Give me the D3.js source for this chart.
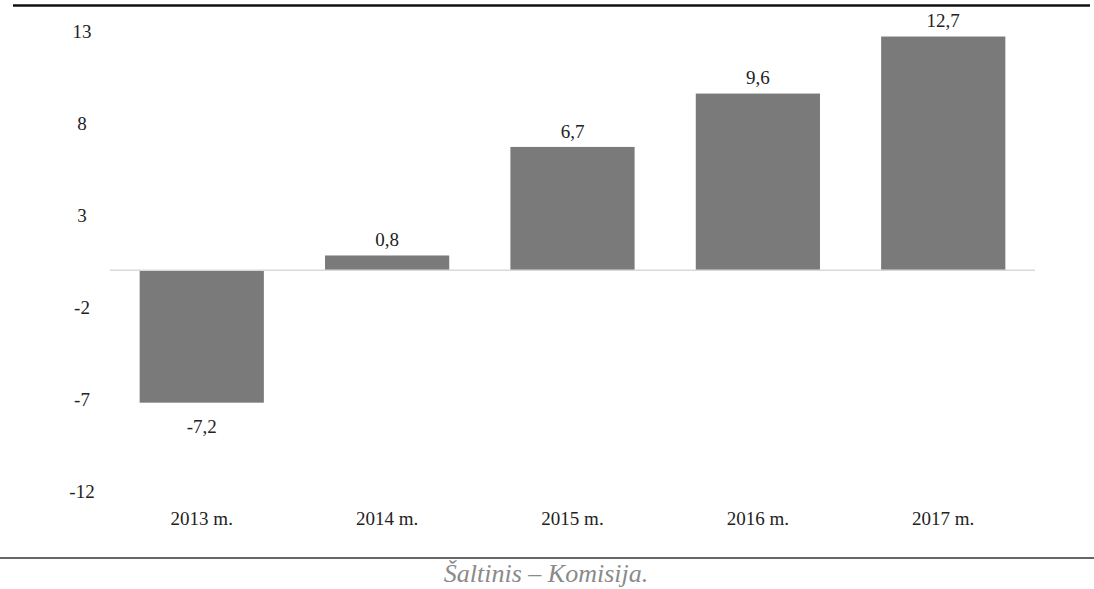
<!DOCTYPE html>
<html>
<head>
<meta charset="utf-8">
<script src="https://cdn.jsdelivr.net/npm/d3@7"></script>
<style>
  body { margin: 0; background: #fff; }
  svg { display: block; font-family: "Liberation Serif", "DejaVu Serif", serif; }
</style>
</head>
<body>
<svg width="1094" height="589"></svg>
<script>
// data
const years = ["2013 m.", "2014 m.", "2015 m.", "2016 m.", "2017 m."]
const values = [-7.2, 0.8, 6.7, 9.6, 12.7]
const yTicks = [13, 8, 3, -2, -7, -12]

const svg = d3.select("svg")

// scales
const x = d3.scaleBand().domain(years).range([110, 1035]).paddingInner(0.33).paddingOuter(0.16)
const y = d3.scaleLinear().domain([-12, 13]).range([491, 31])

// top and bottom rules
svg.append("line")
  .attr("x1", 13).attr("x2", 1090).attr("y1", 5.5).attr("y2", 5.5)
  .attr("stroke", "#111").attr("stroke-width", 2.5)
svg.append("line")
  .attr("x1", 0).attr("x2", 1094).attr("y1", 558).attr("y2", 558)
  .attr("stroke", "#333").attr("stroke-width", 1.5)

// y labels
svg.selectAll(".ytick")
  .data(yTicks)
  .enter().append("text")
  .attr("x", 82)
  .attr("y", d => y(d))
  .attr("dy", "0.35em")
  .attr("text-anchor", "middle")
  .attr("font-size", 19)
  .attr("fill", "#222")
  .text(d => d)

// bars
svg.selectAll(".bar")
  .data(values)
  .enter().append("rect")
  .attr("x", (d, i) => x(years[i]))
  .attr("width", x.bandwidth())
  .attr("y", d => y(Math.max(0, d)))
  .attr("height", d => Math.abs(y(d) - y(0)))
  .attr("fill", "#7a7a7a")

// zero line
svg.append("line")
  .attr("x1", 110).attr("x2", 1035)
  .attr("y1", y(0)).attr("y2", y(0))
  .attr("stroke", "#d9d9d9").attr("stroke-width", 1.5)

// value labels
svg.selectAll(".val")
  .data(values)
  .enter().append("text")
  .attr("x", (d, i) => x(years[i]) + x.bandwidth() / 2)
  .attr("y", d => d >= 0 ? y(d) - 16 : y(d) + 24)
  .attr("dy", "0.35em")
  .attr("text-anchor", "middle")
  .attr("font-size", 19)
  .attr("fill", "#222")
  .text(d => String(d).replace(".", ","))

// category labels
svg.selectAll(".cat")
  .data(years)
  .enter().append("text")
  .attr("x", d => x(d) + x.bandwidth() / 2)
  .attr("y", 518)
  .attr("dy", "0.35em")
  .attr("text-anchor", "middle")
  .attr("font-size", 19)
  .attr("fill", "#222")
  .text(d => d)

// source
svg.append("text")
  .attr("x", 546).attr("y", 573)
  .attr("dy", "0.35em")
  .attr("text-anchor", "middle")
  .attr("font-size", 26)
  .attr("font-style", "italic")
  .attr("fill", "#8a8a8a")
  .text("Šaltinis – Komisija.")
</script>
</body>
</html>
